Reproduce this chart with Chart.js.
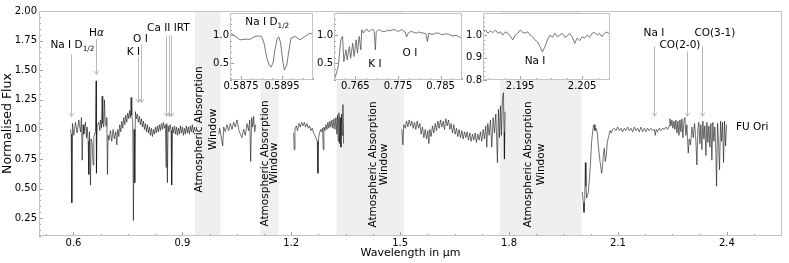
<!DOCTYPE html>
<html>
<head>
<meta charset="utf-8">
<script src="https://cdn.jsdelivr.net/npm/chart.js@4.4.1/dist/chart.umd.min.js"></script>
<style>
  html, body { margin: 0; padding: 0; background: #fff; }
  #wrap { position: relative; width: 789px; height: 263px; }
  canvas { position: absolute; }
</style>
</head>
<body>
<div id="wrap">
  <canvas id="main" width="789" height="263" style="left:0;top:0"></canvas>
  <canvas id="inset1" width="121" height="91" style="left:200px;top:5px"></canvas>
  <canvas id="inset2" width="156" height="91" style="left:314px;top:5px"></canvas>
  <canvas id="inset3" width="158" height="91" style="left:460px;top:5px"></canvas>
</div>
<script>
// spectrum pieces between the telluric gaps, [wavelength (um), normalised flux]
const seg1 = [
  [0.5917,1.00],[0.5936,0.96],[0.5954,0.38],[0.5972,1.05],[0.6009,0.95],[0.6055,1.06],[0.6101,0.97],[0.6147,1.08],
  [0.6193,0.98],[0.6220,1.10],[0.6239,0.74],[0.6266,1.04],[0.6284,0.96],[0.6330,1.06],[0.6358,0.93],[0.6376,1.02],
  [0.6404,0.90],[0.6422,0.62],[0.6440,0.98],[0.6468,0.53],[0.6486,0.92],[0.6514,0.88],[0.6541,0.70],[0.6560,0.94],
  [0.6606,0.98],[0.6624,1.41],[0.6633,0.63],[0.6651,1.03],[0.6697,1.06],[0.6725,0.99],[0.6743,1.08],[0.6771,1.01],
  [0.6789,1.28],[0.6807,1.05],[0.6835,1.02],[0.6853,1.25],[0.6872,1.07],[0.6899,1.03],[0.6917,1.10],[0.6936,0.62],
  [0.6954,0.95],[0.6982,0.91],[0.7018,0.99],[0.7055,0.90],[0.7092,1.00],[0.7128,0.92],[0.7165,0.98],[0.7193,0.87],
  [0.7220,1.00],[0.7248,0.94],[0.7275,1.04],[0.7303,0.98],[0.7330,1.07],[0.7358,1.01],[0.7385,1.10],[0.7413,1.04],
  [0.7440,1.12],[0.7468,1.06],[0.7495,1.14],[0.7523,1.09],[0.7550,1.16],[0.7569,1.10],[0.7587,1.27],[0.7606,1.12],
  [0.7633,1.05],[0.7651,0.23],[0.7670,1.00],[0.7688,0.55],[0.7706,1.15],[0.7734,1.09],[0.7761,1.13],[0.7789,1.06],
  [0.7817,1.11],[0.7844,1.04],[0.7872,1.09],[0.7899,1.02],[0.7927,1.07],[0.7954,1.00],[0.7982,1.05],[0.8009,0.98],
  [0.8037,1.04],[0.8064,0.97],[0.8092,1.02],[0.8119,0.95],[0.8147,1.01],[0.8174,0.94],[0.8202,1.00],[0.8229,0.96],
  [0.8257,1.02],[0.8284,0.97],[0.8312,1.03],[0.8339,0.98],[0.8367,1.04],[0.8394,0.99],[0.8422,1.05],[0.8450,1.00],
  [0.8477,1.06],[0.8505,1.01],[0.8532,1.04],[0.8550,0.68],[0.8569,1.05],[0.8587,0.55],[0.8606,1.03],[0.8633,0.98],
  [0.8661,1.04],[0.8688,0.99],[0.8706,0.53],[0.8725,1.02],[0.8752,0.97],[0.8780,1.03],[0.8807,0.96],[0.8835,1.02],
  [0.8862,0.95],[0.8890,1.01],[0.8917,0.96],[0.8945,1.03],[0.8972,0.97],[0.9000,1.02],[0.9028,0.95],[0.9055,1.01],
  [0.9083,0.96],[0.9110,1.03],[0.9138,0.97],[0.9165,1.02],[0.9193,0.96],[0.9220,1.03],[0.9248,0.98],[0.9275,1.04],
  [0.9303,0.97],[0.9330,1.02],[0.9358,0.98]
];
const seg2 = [
  [1.0001,0.96],[1.0028,1.01],[1.0065,0.95],[1.0111,0.86],[1.0138,1.02],[1.0184,0.98],[1.0230,1.04],[1.0276,0.99],
  [1.0322,1.05],[1.0368,1.00],[1.0414,1.06],[1.0459,1.02],[1.0505,1.08],[1.0551,1.00],[1.0597,0.96],[1.0643,0.93],
  [1.0689,1.00],[1.0735,0.95],[1.0780,1.05],[1.0826,0.99],[1.0854,1.08],[1.0882,0.73],[1.0909,1.10],[1.0937,1.02],
  [1.0964,1.11],[1.0992,0.98],[1.1019,1.04]
];
const seg3 = [
  [1.2065,0.97],[1.2083,0.83],[1.2102,1.00],[1.2139,1.03],[1.2175,0.99],[1.2212,1.05],[1.2248,1.02],[1.2285,1.06],
  [1.2322,1.03],[1.2359,1.06],[1.2395,1.02],[1.2432,1.05],[1.2469,1.01],[1.2505,1.03],[1.2542,0.99],[1.2579,1.01],
  [1.2615,0.97],[1.2652,0.95],[1.2689,0.92],[1.2716,0.90],[1.2735,0.63],[1.2753,0.93],[1.2781,0.97],[1.2808,1.00],
  [1.2836,0.98],[1.2863,1.01],[1.2882,0.83],[1.2900,1.02],[1.2928,0.99],[1.2955,1.04],[1.2982,1.00],[1.3010,1.06],
  [1.3037,1.01],[1.3065,1.07],[1.3092,1.02],[1.3120,1.08],[1.3147,1.01],[1.3175,1.09],[1.3203,1.00],[1.3230,1.10],
  [1.3258,0.96],[1.3276,1.12],[1.3294,0.90],[1.3313,1.14],[1.3331,0.88],[1.3349,1.10],[1.3368,0.85],[1.3386,1.13],
  [1.3404,0.95],[1.3423,1.21],[1.3441,0.88]
];
const seg4 = [
  [1.5047,1.00],[1.5075,0.87],[1.5102,1.04],[1.5139,1.01],[1.5176,1.07],[1.5212,1.02],[1.5249,1.08],[1.5286,1.03],
  [1.5322,1.07],[1.5359,1.01],[1.5396,1.06],[1.5432,1.00],[1.5469,1.07],[1.5506,1.01],[1.5543,1.05],[1.5579,0.96],
  [1.5616,1.02],[1.5653,0.93],[1.5689,1.00],[1.5726,0.92],[1.5763,0.99],[1.5790,0.88],[1.5818,1.00],[1.5854,0.94],
  [1.5891,1.03],[1.5928,0.97],[1.5965,1.05],[1.6001,0.99],[1.6038,1.07],[1.6075,1.01],[1.6111,1.08],[1.6148,1.02],
  [1.6185,1.07],[1.6221,1.00],[1.6258,1.09],[1.6295,1.03],[1.6332,1.08],[1.6368,1.00],[1.6405,1.05],[1.6442,0.97],
  [1.6478,1.04],[1.6515,0.96],[1.6552,1.01],[1.6588,0.94],[1.6625,1.00],[1.6662,0.93],[1.6699,0.99],[1.6735,0.92],
  [1.6772,0.98],[1.6809,0.93],[1.6845,0.98],[1.6882,0.91],[1.6919,0.97],[1.6955,0.90],[1.6992,0.96],[1.7029,0.91],
  [1.7066,0.97],[1.7102,0.89],[1.7139,0.96],[1.7176,0.91],[1.7212,0.98],[1.7249,0.90],[1.7286,1.00],[1.7322,0.92],
  [1.7359,1.03],[1.7387,0.85],[1.7414,1.05],[1.7451,0.95],[1.7488,1.08],[1.7524,0.85],[1.7561,1.10],[1.7598,0.97],
  [1.7635,1.13],[1.7662,0.90],[1.7680,0.72],[1.7708,1.17],[1.7735,0.93],[1.7763,1.20],[1.7790,0.95],[1.7818,1.26],
  [1.7845,1.31],[1.7864,0.98],[1.7873,0.75],[1.7891,1.15]
];
const seg5 = [
  [2.0019,0.47],[2.0047,0.38],[2.0065,0.30],[2.0084,0.40],[2.0102,0.72],[2.0120,0.52],[2.0139,0.42],[2.0185,0.47],
  [2.0230,0.65],[2.0276,0.90],[2.0322,1.03],[2.0341,1.04],[2.0368,0.99],[2.0396,1.01],[2.0432,0.97],[2.0460,0.86],
  [2.0506,0.73],[2.0552,0.63],[2.0579,0.70],[2.0597,0.78],[2.0625,0.84],[2.0652,0.73],[2.0680,0.78],[2.0707,0.89],
  [2.0744,0.94],[2.0781,0.99],[2.0818,0.97],[2.0854,1.00],[2.0900,1.01],[2.0946,0.99],[2.0992,1.02],[2.1038,0.99],
  [2.1084,1.01],[2.1130,0.98],[2.1175,1.01],[2.1221,0.99],[2.1267,1.02],[2.1313,0.99],[2.1359,1.01],[2.1405,0.98],
  [2.1451,1.02],[2.1497,0.99],[2.1542,1.01],[2.1588,0.98],[2.1634,1.02],[2.1680,0.98],[2.1726,1.01],[2.1772,0.98],
  [2.1818,1.01],[2.1864,0.99],[2.1909,1.01],[2.1955,0.99],[2.2001,1.00],[2.2029,0.95],[2.2056,1.00],[2.2093,0.98],
  [2.2139,1.01],[2.2185,0.99],[2.2231,1.01],[2.2276,1.00],[2.2322,1.02],[2.2368,1.00],[2.2414,1.03],[2.2432,1.09],
  [2.2460,1.03],[2.2487,1.08],[2.2515,1.01],[2.2542,1.07],[2.2570,1.00],[2.2597,1.08],[2.2625,0.97],[2.2653,1.07],
  [2.2680,0.95],[2.2708,1.08],[2.2735,0.98],[2.2763,1.09],[2.2790,0.93],[2.2818,1.07],[2.2845,1.10],[2.2873,0.95],
  [2.2900,1.04],[2.2937,0.80],[2.2965,0.92],[2.3001,0.87],[2.3038,1.02],[2.3075,0.93],[2.3111,1.05],[2.3148,0.90],
  [2.3175,0.70],[2.3203,1.00],[2.3230,1.06],[2.3258,0.88],[2.3285,1.04],[2.3313,0.83],[2.3340,1.07],[2.3368,0.92],
  [2.3396,1.03],[2.3423,0.78],[2.3451,1.06],[2.3478,0.89],[2.3506,1.03],[2.3533,0.85],[2.3561,1.05],[2.3588,0.74],
  [2.3616,1.06],[2.3643,0.90],[2.3671,1.02],[2.3698,0.80],[2.3717,0.52],[2.3744,1.05],[2.3772,0.88],[2.3799,0.66],
  [2.3827,1.07],[2.3854,0.90],[2.3882,1.06],[2.3909,0.72],[2.3937,1.07],[2.3964,0.86],[2.3992,1.04]
];

// zoomed insets
const naDInset = [
  [0.58696,1.04],[0.58720,0.99],[0.58745,0.92],[0.58769,0.93],[0.58794,0.93],[0.58818,0.98],[0.58834,0.99],
  [0.58850,0.98],[0.58862,0.86],[0.58875,0.61],[0.58887,0.47],[0.58896,0.43],[0.58907,0.52],[0.58915,0.74],
  [0.58927,0.95],[0.58935,0.97],[0.58943,0.86],[0.58953,0.56],[0.58961,0.38],[0.58973,0.47],[0.58984,0.74],
  [0.58994,0.95],[0.59013,0.98],[0.59038,0.92],[0.59062,0.98],[0.59087,1.04],[0.59101,1.01]
];
const kIInset = [
  [0.7602,0.23],[0.7610,0.44],[0.7616,0.92],[0.7620,0.98],[0.7623,0.53],[0.7628,0.74],[0.7631,0.56],[0.7636,0.80],
  [0.7639,0.59],[0.7644,0.86],[0.7647,0.62],[0.7652,0.92],[0.7655,0.68],[0.7659,0.98],[0.7663,0.74],[0.7665,1.10],
  [0.7669,1.04],[0.7673,1.09],[0.7677,1.11],[0.7681,1.07],[0.7684,1.08],[0.7688,1.10],[0.7691,1.11],[0.7694,1.07],
  [0.7697,0.74],[0.7699,1.07],[0.7704,1.10],[0.7708,1.09],[0.7714,1.07],[0.7720,1.07],[0.7725,1.09],[0.7731,1.08],
  [0.7737,1.10],[0.7743,1.10],[0.7747,1.08],[0.7751,1.07],[0.7755,1.09],[0.7759,1.10],[0.7763,1.08],[0.7766,1.07],
  [0.7770,0.97],[0.7774,1.04],[0.7778,1.06],[0.7782,1.07],[0.7788,1.05],[0.7794,1.04],[0.7798,1.06],[0.7802,1.05],
  [0.7809,1.04],[0.7815,1.03],[0.7819,0.89],[0.7822,1.04],[0.7827,1.02],[0.7833,1.02],[0.7839,1.04],[0.7845,1.04],
  [0.7850,1.02],[0.7856,1.01],[0.7862,1.03],[0.7868,1.02],[0.7874,1.00],[0.7880,0.99],[0.7886,1.00],[0.7892,0.98],
  [0.7899,0.95]
];
const naIInset = [
  [2.1890,1.016],[2.1894,1.024],[2.1898,1.009],[2.1902,1.020],[2.1906,1.012],[2.1910,1.024],[2.1914,1.009],
  [2.1918,1.016],[2.1922,1.001],[2.1926,1.016],[2.1930,1.009],[2.1934,0.997],[2.1938,0.979],[2.1942,1.001],
  [2.1946,1.009],[2.1950,1.024],[2.1954,1.013],[2.1958,1.009],[2.1962,1.016],[2.1966,1.001],[2.1970,0.994],
  [2.1974,0.979],[2.1978,0.971],[2.1982,0.949],[2.1986,0.926],[2.1990,0.949],[2.1994,0.979],[2.1998,1.001],
  [2.2002,0.991],[2.2006,1.009],[2.2010,0.994],[2.2014,1.001],[2.2018,1.009],[2.2022,0.991],[2.2026,0.997],
  [2.2030,1.009],[2.2034,0.994],[2.2038,0.964],[2.2042,0.987],[2.2046,0.976],[2.2050,0.994],[2.2054,0.987],
  [2.2058,1.001],[2.2062,0.991],[2.2066,1.009],[2.2070,1.013],[2.2074,1.001],[2.2078,1.009],[2.2082,0.994],
  [2.2086,1.009],[2.2090,1.015],[2.2094,1.006]
];

// telluric windows and their labels
const windows = [[0.935, 1.005], [1.115, 1.165], [1.325, 1.51], [1.775, 2.0]];
const windowLabelX = [0.9647, 1.1395, 1.441, 1.8717];
const windowLabelY = [1.0, 0.713, 0.704, 0.704];

// line identifications: label parts, label position, arrow x positions, arrow top and tip
const markParts = [
  [['Na I D', ''], ['1/2', 'sub']], [['H', ''], ['α', 'it']], [['K I', '']], [['O I', '']],
  [['Ca II IRT', '']], [['Na I', '']], [['CO(2-0)', '']], [['CO(3-1)', '']]
];
const markLabelX = [0.5972, 0.6633, 0.7652, 0.7844, 0.8615, 2.1992, 2.2708, 2.3671];
const markLabelY = [1.718, 1.819, 1.659, 1.769, 1.861, 1.819, 1.718, 1.819];
const arrowX = [[0.5945], [0.6633], [0.7775], [0.7858], [0.8552, 0.8623, 0.8697], [2.2], [2.2909], [2.3305]];
const arrowTop = [1.633, 1.76, 1.608, 1.718, 1.794, 1.70, 1.659, 1.70];
const arrowTip = [1.11, 1.465, 1.228, 1.228, 1.11, 1.112, 1.112, 1.112];

const mainXTicks = [0.6, 0.9, 1.2, 1.5, 1.8, 2.1, 2.4];
const mainYTicks = [0.25, 0.5, 0.75, 1.0, 1.25, 1.5, 1.75, 2.0];

const FONT = '"DejaVu Sans"';
Chart.defaults.font.family = 'DejaVu Sans';
Chart.defaults.color = '#000';

const richText = (ctx, parts, cx, cy, size) => {
  const fontFor = (st) => (st === 'it' ? 'italic ' : '') + (st === 'sub' ? size * 0.7 : size) + 'px ' + FONT;
  let w = 0;
  parts.forEach(([t, st]) => { ctx.font = fontFor(st); w += ctx.measureText(t).width; });
  let x = cx - w / 2;
  const base = cy + size * 0.36;
  ctx.textAlign = 'left';
  ctx.textBaseline = 'alphabetic';
  parts.forEach(([t, st]) => {
    ctx.font = fontFor(st);
    ctx.fillText(t, x, st === 'sub' ? base + size * 0.25 : base);
    x += ctx.measureText(t).width;
  });
};

// inward ticks (long on majors, short on minors) plus a light frame
const drawFrame = (chart, xMinor, yMinor) => {
  const { ctx, chartArea: a, scales: { x, y } } = chart;
  const steps = (min, max, step, fn) => {
    for (let i = Math.ceil(min / step - 1e-6); i * step <= max + 1e-9; i++) fn(i * step);
  };
  ctx.save();
  ctx.strokeStyle = '#a0a0a0';
  ctx.lineWidth = 1;
  ctx.beginPath();
  steps(x.min, x.max, xMinor, (v) => {
    const p = Math.round(x.getPixelForValue(v)) + 0.5;
    ctx.moveTo(p, a.bottom); ctx.lineTo(p, a.bottom - 2);
  });
  x.ticks.forEach((t) => {
    const p = Math.round(x.getPixelForValue(t.value)) + 0.5;
    ctx.moveTo(p, a.bottom); ctx.lineTo(p, a.bottom - 4);
  });
  steps(y.min, y.max, yMinor, (v) => {
    const p = Math.round(y.getPixelForValue(v)) + 0.5;
    ctx.moveTo(a.left, p); ctx.lineTo(a.left + 2, p);
  });
  y.ticks.forEach((t) => {
    const p = Math.round(y.getPixelForValue(t.value)) + 0.5;
    ctx.moveTo(a.left, p); ctx.lineTo(a.left + 4, p);
  });
  ctx.stroke();
  ctx.strokeStyle = '#c4c4c4';
  ctx.strokeRect(a.left + 0.5, a.top + 0.5, a.right - a.left - 1, a.bottom - a.top - 1);
  ctx.restore();
};

const mainDecor = {
  id: 'mainDecor',
  beforeDatasetsDraw(chart) {
    const { ctx, chartArea: a, scales: { x } } = chart;
    ctx.save();
    ctx.fillStyle = '#efefef';
    windows.forEach(([w0, w1]) => {
      const l = x.getPixelForValue(w0);
      const r = x.getPixelForValue(w1);
      ctx.fillRect(l, a.top, r - l, a.bottom - a.top);
    });
    ctx.restore();
  },
  afterDraw(chart) {
    const { ctx, scales: { x, y } } = chart;
    drawFrame(chart, 0.075, 0.05);
    ctx.save();
    // arrows
    ctx.strokeStyle = '#a8a8a8';
    ctx.lineWidth = 0.8;
    arrowX.forEach((xs, i) => {
      const top = y.getPixelForValue(arrowTop[i]);
      const tip = y.getPixelForValue(arrowTip[i]);
      xs.forEach((xv) => {
        const p = Math.round(x.getPixelForValue(xv)) + 0.5;
        ctx.beginPath();
        ctx.moveTo(p, top); ctx.lineTo(p, tip);
        ctx.moveTo(p - 2.5, tip - 3.5); ctx.lineTo(p, tip); ctx.lineTo(p + 2.5, tip - 3.5);
        ctx.stroke();
      });
    });
    ctx.fillStyle = '#000';
    markParts.forEach((parts, i) => {
      richText(ctx, parts, x.getPixelForValue(markLabelX[i]), y.getPixelForValue(markLabelY[i]), 10.5);
    });
    // object name
    ctx.font = '10.5px ' + FONT;
    ctx.textAlign = 'left';
    ctx.textBaseline = 'middle';
    ctx.fillText('FU Ori', x.getPixelForValue(2.425), y.getPixelForValue(1.017));
    // window captions, rotated
    const gaps = [14, 9, 11, 13];
    windowLabelX.forEach((wx, i) => {
      ctx.save();
      ctx.translate(x.getPixelForValue(wx), y.getPixelForValue(windowLabelY[i]));
      ctx.rotate(-Math.PI / 2);
      ctx.textAlign = 'center';
      ctx.textBaseline = 'middle';
      ctx.fillText('Atmospheric Absorption', 0, -gaps[i] / 2);
      ctx.fillText('Window', 0, gaps[i] / 2);
      ctx.restore();
    });
    ctx.restore();
  },
};

new Chart(document.getElementById('main'), {
  type: 'line',
  data: {
    datasets: [seg1, seg2, seg3, seg4, seg5].map((seg) => ({
      data: seg.map(([x, y]) => ({ x, y })),
      borderColor: '#111',
      borderWidth: 0.6,
      pointRadius: 0,
      tension: 0,
    })),
  },
  options: {
    responsive: false,
    animation: false,
    layout: { padding: { top: 11, right: 7, left: 0, bottom: 0 } },
    plugins: { legend: { display: false }, tooltip: { enabled: false } },
    scales: {
      x: {
        type: 'linear',
        min: 0.505,
        max: 2.552,
        afterBuildTicks: (s) => { s.ticks = mainXTicks.map((value) => ({ value })); },
        afterFit: (s) => { s.height = 27; },
        grid: { display: false, drawTicks: false },
        border: { display: false },
        ticks: { autoSkip: false, maxRotation: 0, padding: 1, font: { size: 10 }, callback: (v) => v.toFixed(1) },
        title: { display: true, text: 'Wavelength in μm', font: { size: 11 }, padding: { top: 0, bottom: 3 } },
      },
      y: {
        min: 0.1,
        max: 2.0,
        afterBuildTicks: (s) => { s.ticks = mainYTicks.map((value) => ({ value })); },
        afterFit: (s) => { s.width = 39; },
        grid: { display: false, drawTicks: false },
        border: { display: false },
        ticks: { autoSkip: false, padding: 2, font: { size: 10 }, callback: (v) => v.toFixed(2) },
        title: { display: true, text: 'Normalised Flux', font: { size: 12.5 }, padding: { top: 0, bottom: 0 } },
      },
    },
  },
  plugins: [mainDecor],
});

// small zoom panels drawn as their own charts on top
const makeInset = (id, pts, xr, yr, xTicks, yTicks, xMinor, yMinor, xDec, yw, notes) => {
  const insetDecor = {
    id: 'insetDecor',
    beforeDraw(chart) {
      const { ctx, chartArea: a } = chart;
      ctx.save();
      ctx.fillStyle = '#fff';
      ctx.fillRect(a.left, a.top, a.right - a.left, a.bottom - a.top);
      ctx.restore();
    },
    afterDraw(chart) {
      const { ctx, scales: { x, y } } = chart;
      drawFrame(chart, xMinor, yMinor);
      ctx.save();
      ctx.fillStyle = '#000';
      notes.forEach(([parts, nx, ny]) => richText(ctx, parts, x.getPixelForValue(nx), y.getPixelForValue(ny), 10.5));
      ctx.restore();
    },
  };
  return new Chart(document.getElementById(id), {
    type: 'line',
    data: {
      datasets: [{
        data: pts.map(([x, y]) => ({ x, y })),
        borderColor: '#555',
        borderWidth: 0.8,
        pointRadius: 0,
        tension: 0,
      }],
    },
    options: {
      responsive: false,
      animation: false,
      layout: { padding: { top: 8, right: 8, left: 0, bottom: 0 } },
      plugins: { legend: { display: false }, tooltip: { enabled: false } },
      scales: {
        x: {
          type: 'linear', min: xr[0], max: xr[1],
          afterBuildTicks: (s) => { s.ticks = xTicks.map((value) => ({ value })); },
          afterFit: (s) => { s.height = 16; },
          grid: { display: false, drawTicks: false },
          border: { display: false },
          ticks: { autoSkip: false, maxRotation: 0, padding: 0, font: { size: 10 }, callback: (v) => v.toFixed(xDec) },
        },
        y: {
          min: yr[0], max: yr[1],
          afterBuildTicks: (s) => { s.ticks = yTicks.map((value) => ({ value })); },
          afterFit: (s) => { s.width = yw; },
          grid: { display: false, drawTicks: false },
          border: { display: false },
          ticks: { autoSkip: false, padding: 1, font: { size: 10 }, callback: (v) => v.toFixed(1) },
        },
      },
    },
    plugins: [insetDecor],
  });
};

makeInset('inset1', naDInset, [0.58696, 0.59101], [0.2, 1.4], [0.5875, 0.5895], [0.5, 1.0], 0.0005, 0.1, 4, 30,
  [[[['Na I D', ''], ['1/2', 'sub']], 0.58878, 1.244]]);
makeInset('inset2', kIInset, [0.760, 0.790], [0.2, 1.4], [0.765, 0.775, 0.785], [0.5, 1.0], 0.0025, 0.1, 3, 20,
  [[[['K I', '']], 0.7696, 0.504], [[['O I', '']], 0.7778, 0.701]]);
makeInset('inset3', naIInset, [2.189, 2.2095], [0.8, 1.1], [2.195, 2.205], [0.8, 0.9, 1.0], 0.0025, 0.02, 3, 23,
  [[[['Na I', '']], 2.1974, 0.889]]);
</script>
</body>
</html>
